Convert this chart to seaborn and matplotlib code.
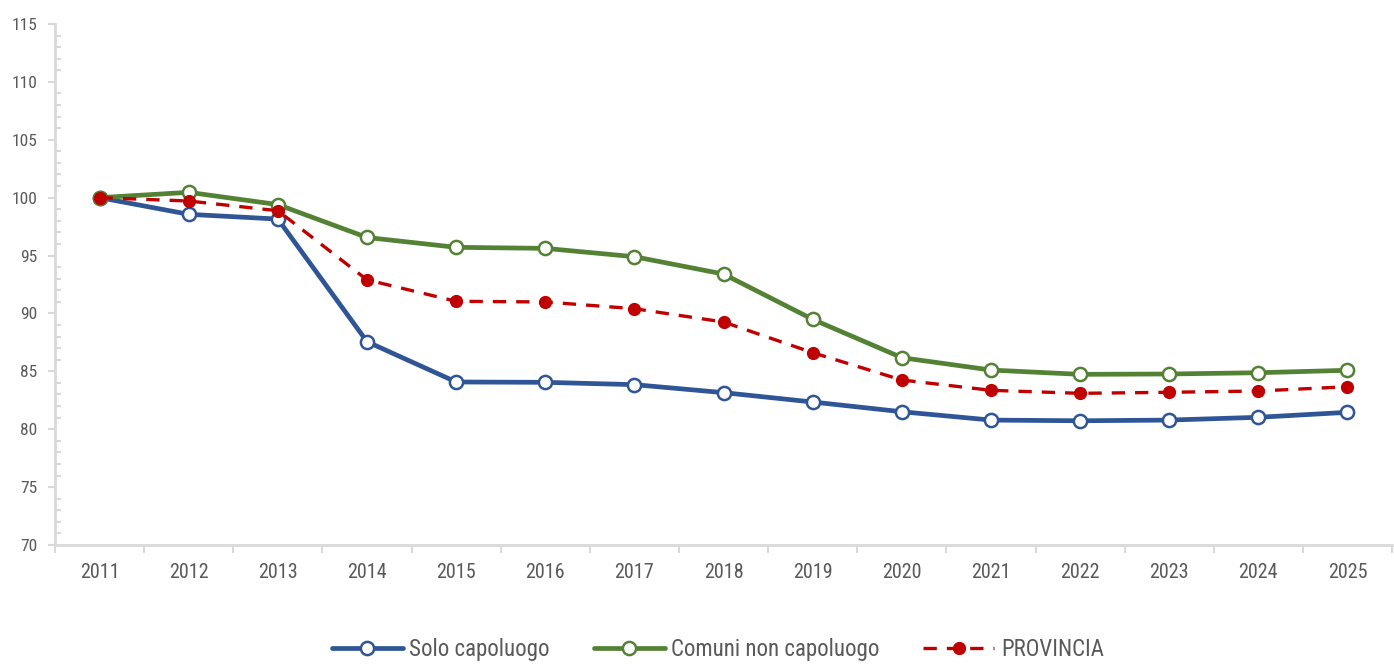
import matplotlib
matplotlib.use("Agg")
import matplotlib.pyplot as plt
from matplotlib.ticker import FixedLocator, MultipleLocator, NullFormatter
from matplotlib import font_manager
import numpy as np
import seaborn as sns

# dati (indice 2011 = 100)
anni = ["2011", "2012", "2013", "2014", "2015", "2016", "2017", "2018",
        "2019", "2020", "2021", "2022", "2023", "2024", "2025"]
solo_capoluogo = [100, 98.56, 98.15, 87.56, 84.08, 84.05, 83.85, 83.16,
                  82.35, 81.51, 80.79, 80.73, 80.79, 81.03, 81.46]
comuni_non_capoluogo = [100, 100.46, 99.40, 96.56, 95.71, 95.62, 94.90, 93.40,
                        89.49, 86.18, 85.11, 84.74, 84.77, 84.88, 85.09]
provincia = [100, 99.71, 98.87, 92.90, 91.05, 90.99, 90.41, 89.26,
             86.61, 84.25, 83.36, 83.10, 83.19, 83.30, 83.67]

sns.set_style("ticks")

# serve un carattere stretto tipo Arial Narrow, se c'è
installati = {f.name for f in font_manager.fontManager.ttflist}
stretti = [n for n in ["Liberation Sans Narrow", "Roboto Condensed",
                       "Open Sans Condensed", "DejaVu Sans Condensed"]
           if n in installati]
if stretti:
    famiglia = stretti[0]
    scala = 1.0
else:
    famiglia = "Liberation Sans"
    scala = 0.84
plt.rcParams['font.family'] = [famiglia, 'DejaVu Sans']

grigio = "#d9d9d9"
testo = "#595959"

fig = plt.figure(figsize=(13.94, 6.64), dpi=100)
ax = fig.add_axes([0.0395, 0.1792, 0.9591, 0.7847])

x = np.arange(len(anni))

sns.lineplot(x=x, y=solo_capoluogo, ax=ax, color="#2F5597", lw=3.4,
             marker="o", markersize=9.5, markerfacecolor="white",
             markeredgecolor="#2F5597", markeredgewidth=1.8,
             label="Solo capoluogo", zorder=3)
sns.lineplot(x=x, y=comuni_non_capoluogo, ax=ax, color="#548235", lw=3.4,
             marker="o", markersize=9.5, markerfacecolor="white",
             markeredgecolor="#548235", markeredgewidth=1.8,
             label="Comuni non capoluogo", zorder=4)
sns.lineplot(x=x, y=provincia, ax=ax, color="#C00000", lw=2.4,
             linestyle=(0, (4, 3)), marker="o", markersize=8.5,
             markerfacecolor="#C00000", markeredgecolor="#C00000",
             markeredgewidth=1, label="PROVINCIA", zorder=5)

ax.set_xlim(-0.5, len(anni) - 0.5)
ax.set_ylim(70, 115)

# asse y: principali ogni 5 (verso l'esterno), secondari ogni 1 (verso l'interno)
ax.yaxis.set_major_locator(MultipleLocator(5))
ax.yaxis.set_minor_locator(MultipleLocator(1))
ax.tick_params(axis="y", which="major", direction="out", length=5, width=1.5,
               color=grigio, labelsize=12.5 * scala, labelcolor=testo, pad=8)
ax.tick_params(axis="y", which="minor", direction="in", length=4, width=1.5,
               color=grigio)

# asse x: tacche ai confini delle categorie, etichette al centro
ax.xaxis.set_major_locator(FixedLocator(np.arange(-0.5, len(anni), 1)))
ax.xaxis.set_major_formatter(NullFormatter())
ax.xaxis.set_minor_locator(FixedLocator(x))
ax.set_xticklabels(anni, minor=True)
ax.tick_params(axis="x", which="major", direction="out", length=6, width=1.5,
               color=grigio)
ax.tick_params(axis="x", which="minor", length=0, labelsize=14.5 * scala,
               labelcolor=testo, pad=13)

for s in ["top", "right"]:
    ax.spines[s].set_visible(False)
for s in ["left", "bottom"]:
    ax.spines[s].set_color(grigio)
    ax.spines[s].set_linewidth(2)
ax.set_xlabel("")
ax.set_ylabel("")

handles, labels = ax.get_legend_handles_labels()
ax.get_legend().remove()
fig.legend(handles, labels, loc="center", bbox_to_anchor=(0.515, 0.022),
           ncol=3, frameon=False, fontsize=16.5 * scala, labelcolor=testo,
           handlelength=3.1, handletextpad=0.3, columnspacing=1.9)

fig.savefig("out.png", dpi=100, facecolor="white")
